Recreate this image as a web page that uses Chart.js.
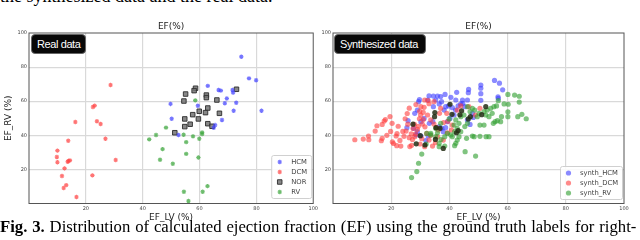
<!DOCTYPE html>
<html>
<head>
<meta charset="utf-8">
<script src="https://cdn.jsdelivr.net/npm/chart.js@4.4.0/dist/chart.umd.min.js"></script>
<style>
body { margin: 0; background: #fff; }
#page { position: relative; width: 640px; height: 240px; overflow: hidden; }
.cap { position: absolute; left: 0; white-space: nowrap; font-family: 'Liberation Serif', serif; color: #000; }
.bottom { font-size: 16.7px; line-height: 17px; word-spacing: 0.7px; }
canvas { position: absolute; top: 0; }
.badge { position: absolute; top: 34px; height: 20px; line-height: 19px; background: #080808; color: #fff; border: 1px solid #666; border-radius: 4px; box-sizing: border-box; font-family: 'Liberation Sans', sans-serif; font-size: 11px; letter-spacing: -0.4px; padding-left: 5px; }
</style>
</head>
<body>
<div id="page">
  <div class="cap" style="top:-12.6px;font-size:18px;line-height:18px">the synthesized data and the real data.</div>
  <canvas id="realChart" width="320" height="240" style="left:0"></canvas>
  <canvas id="synthChart" width="320" height="240" style="left:320px"></canvas>
  <div class="badge" style="left:31px;width:55px">Real data</div>
  <div class="badge" style="left:334px;width:92px">Synthesized data</div>
  <div class="cap bottom" style="top:217.9px"><b>Fig. 3.</b> Distribution of calculated ejection fraction (EF) using the ground truth labels for right-</div>
</div>
<script>
// axis ticks shared by both plots
var axisTicks = [0, 20, 40, 60, 80, 100];

// real data: [EF_LV, EF_RV]
var realHCM = [[74.7,86.1],[77.4,73.4],[79.9,72.3],[62.9,69.0],[66.7,66.6],[67.5,66.2],[71.6,66.6],[71.8,65.0],[69.6,61.6],[68.9,58.8],
  [72.9,59.1],[49.8,58.4],[59.4,57.3],[72.0,54.4],[81.8,54.4],[50.2,49.7],[67.9,49.0],[65.5,46.0],[65.0,44.4],[52.6,40.2]];
var realDCM = [[28.7,69.5],[22.5,56.6],[23.1,57.4],[16.3,47.8],[23.9,48.2],[25.2,46.6],[13.8,36.8],[26.9,38.0],[10.0,31.0],[9.8,27.3],
  [10.0,24.2],[13.6,24.5],[13.9,24.9],[14.4,25.3],[30.5,25.5],[12.5,20.6],[11.6,16.1],[22.3,16.5],[13.1,10.8],[12.2,9.1],[16.7,3.8]];
var realNOR = [[58.6,67.6],[58.1,66.2],[55.1,64.2],[62.4,63.6],[62.4,62.1],[54.5,60.1],[66.1,60.7],[62.9,56.0],[59.9,54.1],[57.6,52.1],
  [62.1,53.3],[67.0,52.9],[54.8,49.6],[59.6,49.6],[56.7,46.5],[54.8,45.1],[62.9,46.8],[64.4,45.3],[51.3,41.5],[73.0,67.0]];
var realRV = [[58.5,60.5],[48.2,44.5],[44.7,40.2],[42.3,37.6],[60.9,41.7],[60.9,40.7],[57.7,39.4],[59.9,38.0],[54.4,40.3],[55.3,36.0],
  [47.0,31.9],[46.1,25.7],[55.3,29.1],[50.6,23.3],[59.6,27.0],[62.8,10.2],[54.5,6.9],[61.1,6.9],[56.1,1.5]];

// synthesized data: [EF_LV, EF_RV]
var synthHCM = [[55.5,72.2],[57.2,70.6],[58.3,66.7],[56.7,62.6],[56.8,61.7],[50.8,69.5],[50.8,67.6],[50.8,64.4],[50.8,60.5],[46.6,66.9],
  [46.5,65.0],[46.2,60.7],[42.5,65.2],[44.5,60.7],[44.6,58.7],[42.2,60.7],[40.5,62.3],[38.5,64.0],[37.0,62.7],[35.9,63.0],
  [34.5,63.0],[33.0,63.2],[32.5,60.7],[29.7,60.9],[29.4,59.7],[35.3,60.7],[37.3,59.7],[36.5,58.4],[34.5,56.8],[38.7,56.8],
  [39.7,57.2],[38.2,54.8],[41.0,56.2],[42.1,54.8],[43.0,57.2],[43.9,58.4],[45.3,56.8],[41.6,51.9],[40.2,49.9],[39.3,48.0],
  [38.7,44.5],[37.4,44.1],[37.9,42.1],[36.5,45.1],[34.3,48.0],[33.1,47.0],[31.3,49.9],[30.2,48.0],[28.1,52.9],[29.0,54.8],
  [25.8,48.6],[25.4,44.5],[27.7,44.1],[28.5,40.2],[29.0,42.1],[30.2,39.6],[31.9,36.9],[32.7,39.6],[46.2,49.0],[47.1,46.4],
  [47.9,52.9],[48.2,50.5]];
var synthDCM = [[7.5,37.4],[10.4,37.8],[12.2,39.6],[12.3,37.4],[14.5,42.5],[15.1,45.6],[16.6,36.8],[16.9,46.4],[17.6,48.4],[16.9,38.2],
  [18.0,49.2],[19.6,51.0],[20.3,47.0],[20.4,36.1],[20.8,35.2],[19.8,42.3],[21.7,39.6],[22.4,45.3],[21.9,33.9],[23.3,33.7],
  [24.0,42.3],[25.1,42.5],[24.4,39.4],[24.8,49.7],[25.5,52.8],[26.2,55.9],[26.2,38.6],[26.9,40.8],[26.4,33.4],[28.0,46.4],
  [28.4,40.8],[29.3,45.3],[29.7,49.7],[30.1,51.9],[31.0,49.2],[31.6,45.0],[32.2,41.1],[30.2,56.8],[29.8,54.1],[31.3,56.4],
  [32.5,51.9],[33.6,49.0],[30.7,46.6],[29.0,43.5],[28.1,39.2],[27.3,37.6],[27.0,34.1],[29.9,34.9],[31.5,33.3],[33.0,37.2],
  [34.2,33.7],[35.9,39.2],[36.2,43.1],[34.7,46.6],[36.6,52.9],[37.0,55.8],[34.7,59.7],[32.7,60.4],[39.1,52.9],[39.5,48.2],
  [41.0,46.0],[42.7,54.8],[43.9,57.2],[46.7,56.8],[49.0,51.9],[50.5,55.8],[37.9,37.2],[39.3,41.5],[40.7,43.1],[35.2,35.7],
  [31.5,60.7],[22.0,41.0],[23.0,37.0],[18.5,40.0],[27.5,44.0],[33.5,40.0],[30.5,38.0],[25.7,46.5],[35.5,44.5],[38.0,47.5],
  [31.0,53.5],[28.5,58.0],[33.0,58.5]];
var synthRV = [[27.0,15.2],[28.8,18.7],[29.4,23.6],[30.5,29.0],[32.0,34.9],[33.6,41.1],[35.3,39.2],[35.9,41.5],[36.5,35.3],[37.1,37.6],
  [38.4,39.2],[39.3,41.1],[41.0,39.2],[41.8,42.1],[42.7,44.1],[43.3,47.0],[41.6,46.0],[42.2,35.3],[41.8,33.9],[42.7,37.2],
  [43.3,39.2],[43.9,42.1],[45.3,45.1],[46.2,47.0],[45.4,30.4],[45.9,38.2],[47.9,39.6],[48.5,39.2],[49.0,27.8],[50.5,39.4],
  [52.6,39.2],[53.6,39.2],[50.5,46.0],[51.9,46.0],[49.6,50.9],[50.2,52.9],[51.9,53.9],[53.0,54.8],[54.2,55.8],[55.3,56.8],
  [56.2,57.2],[56.8,60.3],[58.8,58.4],[60.2,58.2],[60.1,64.0],[62.4,63.6],[64.0,62.9],[64.0,59.5],[60.1,53.8],[60.1,50.9],
  [64.9,52.3],[63.5,50.9],[66.4,49.7],[57.9,50.9],[57.6,48.0],[55.7,48.0],[55.1,47.0],[56.5,48.6],[54.7,52.9],[53.6,50.9],
  [52.5,51.9],[46.2,56.8],[47.1,53.9],[47.9,55.8],[43.9,50.9],[42.2,49.0],[39.9,49.6],[37.0,47.0],[35.3,44.1],[33.6,40.2],
  [32.2,41.1],[38.4,33.7],[40.5,40.2],[36.5,33.3],[45.0,51.9],[48.7,54.8]];
// dark overlapping points (no legend entry in the original)
var synthDark = [[28.6,35.0],[30.0,39.8],[31.6,34.3],[35.0,53.3],[34.9,50.9],[35.4,44.5],[36.8,44.1],[35.2,37.6],[37.9,32.3],[40.2,58.2],
  [40.9,52.3],[44.2,54.4],[43.6,52.0],[42.4,41.5],[43.0,42.8],[46.5,49.6],[47.2,50.9],[51.1,52.1],[52.5,56.8],[27.5,46.5]];

Chart.defaults.font.family = "'DejaVu Sans', sans-serif";

function toXY(list) {
  return list.map(p => ({ x: p[0], y: p[1] }));
}

function isEdge(c) {
  return c.tick && (c.tick.value === 0 || c.tick.value === 100);
}

// box round the plot area, like matplotlib spines
var frame = {
  id: 'frame',
  afterDatasetsDraw(chart) {
    var ctx = chart.ctx, a = chart.chartArea;
    ctx.save();
    ctx.strokeStyle = '#555';
    ctx.lineWidth = 1;
    ctx.strokeRect(a.left, a.top, a.right - a.left, a.bottom - a.top);
    ctx.restore();
  }
};

// legend drawn inside the plot, lower right
var boxLegend = {
  id: 'boxLegend',
  afterDraw(chart, args, opts) {
    var ctx = chart.ctx, a = chart.chartArea;
    var sets = chart.data.datasets.filter(d => d.label);
    var w = opts.width, h = sets.length * 10 + 3;
    var x0 = a.right - opts.right - w, y0 = a.bottom - opts.bottom - h;
    ctx.save();
    ctx.fillStyle = 'rgba(255,255,255,0.85)';
    ctx.strokeStyle = '#d0d0d0';
    ctx.lineWidth = 1;
    ctx.beginPath();
    ctx.roundRect(x0 + 0.5, y0 + 0.5, w, h, 2);
    ctx.fill();
    ctx.stroke();
    sets.forEach((d, i) => {
      var y = y0 + 7 + i * 10;
      ctx.fillStyle = d.pointBackgroundColor;
      ctx.strokeStyle = d.pointBorderColor;
      ctx.lineWidth = d.pointBorderWidth;
      Chart.helpers.drawPoint(ctx, { pointStyle: d.pointStyle, radius: d.pointRadius, borderWidth: d.pointBorderWidth, rotation: 0 }, x0 + 8.5, y);
      ctx.fillStyle = '#444';
      ctx.font = "6.8px 'DejaVu Sans'";
      ctx.textBaseline = 'middle';
      ctx.fillText(d.label, x0 + 20, y);
    });
    ctx.restore();
  }
};

function axis(titleText, titlePad, size, showTitle) {
  return {
    min: 0,
    max: 100,
    afterBuildTicks: s => { s.ticks = axisTicks.map(v => ({ value: v })); },
    afterFit: s => { if (s.isHorizontal()) s.height = size; else s.width = size; },
    border: { display: false },
    grid: { color: c => isEdge(c) ? 'rgba(0,0,0,0)' : '#d9d9d9', lineWidth: 1.2, drawTicks: false },
    ticks: { padding: 2, font: { size: 5 }, color: '#444', maxRotation: 0, autoSkip: false, callback: v => v === 0 ? '' : v },
    title: { display: showTitle, text: titleText, color: '#222', font: { size: 9 }, padding: titlePad }
  };
}

function makeChart(id, sets, yWidth, padRight, showYTitle, legendOpts) {
  return new Chart(document.getElementById(id), {
    type: 'scatter',
    data: { datasets: sets },
    options: {
      responsive: false,
      animation: false,
      events: [],
      layout: { padding: { left: 0, right: padRight, top: 0, bottom: 0 } },
      plugins: {
        legend: { display: false },
        tooltip: { enabled: false },
        title: { display: true, text: 'EF(%)', fullSize: false, color: '#222', font: { size: 9, weight: 'normal' }, padding: { top: 21, bottom: 1.2 } },
        boxLegend: legendOpts
      },
      scales: {
        x: axis('EF_LV (%)', { top: 0, bottom: 16.6 }, 36.5, true),
        y: axis('EF_RV (%)', { top: 3, bottom: 0 }, yWidth, showYTitle)
      }
    },
    plugins: [frame, boxLegend]
  });
}

function starSet(label, data, color) {
  return { label: label, data: toXY(data), pointStyle: 'star', pointRadius: 2.2, pointBorderWidth: 1.1,
    pointBorderColor: color, pointBackgroundColor: color };
}

function dotSet(label, data, color, order) {
  return { label: label, data: toXY(data), order: order, pointStyle: 'circle', pointRadius: 2.6, pointBorderWidth: 0,
    pointBorderColor: color, pointBackgroundColor: color };
}

var realSets = [
  starSet('HCM', realHCM, 'rgba(70,70,255,0.75)'),
  starSet('DCM', realDCM, 'rgba(255,70,70,0.75)'),
  { label: 'NOR', data: toXY(realNOR), pointStyle: 'rect', pointRadius: 3.2, pointBorderWidth: 1,
    pointBorderColor: 'rgba(45,45,45,0.9)', pointBackgroundColor: 'rgba(115,115,115,0.85)' },
  starSet('RV', realRV, 'rgba(60,165,60,0.75)')
];

var synthSets = [
  dotSet('synth_HCM', synthHCM, 'rgba(60,60,255,0.6)', 3),
  dotSet('synth_DCM', synthDCM, 'rgba(255,60,60,0.6)', 2),
  dotSet('synth_RV', synthRV, 'rgba(50,160,50,0.62)', 1),
  dotSet('', synthDark, 'rgba(35,45,20,0.85)', 0)
];

makeChart('realChart', realSets, 29, 1, true, { width: 40, right: 2, bottom: 5.5 });
makeChart('synthChart', synthSets, 13, 16, false, { width: 62, right: 2, bottom: 4.5 });
</script>
</body>
</html>
